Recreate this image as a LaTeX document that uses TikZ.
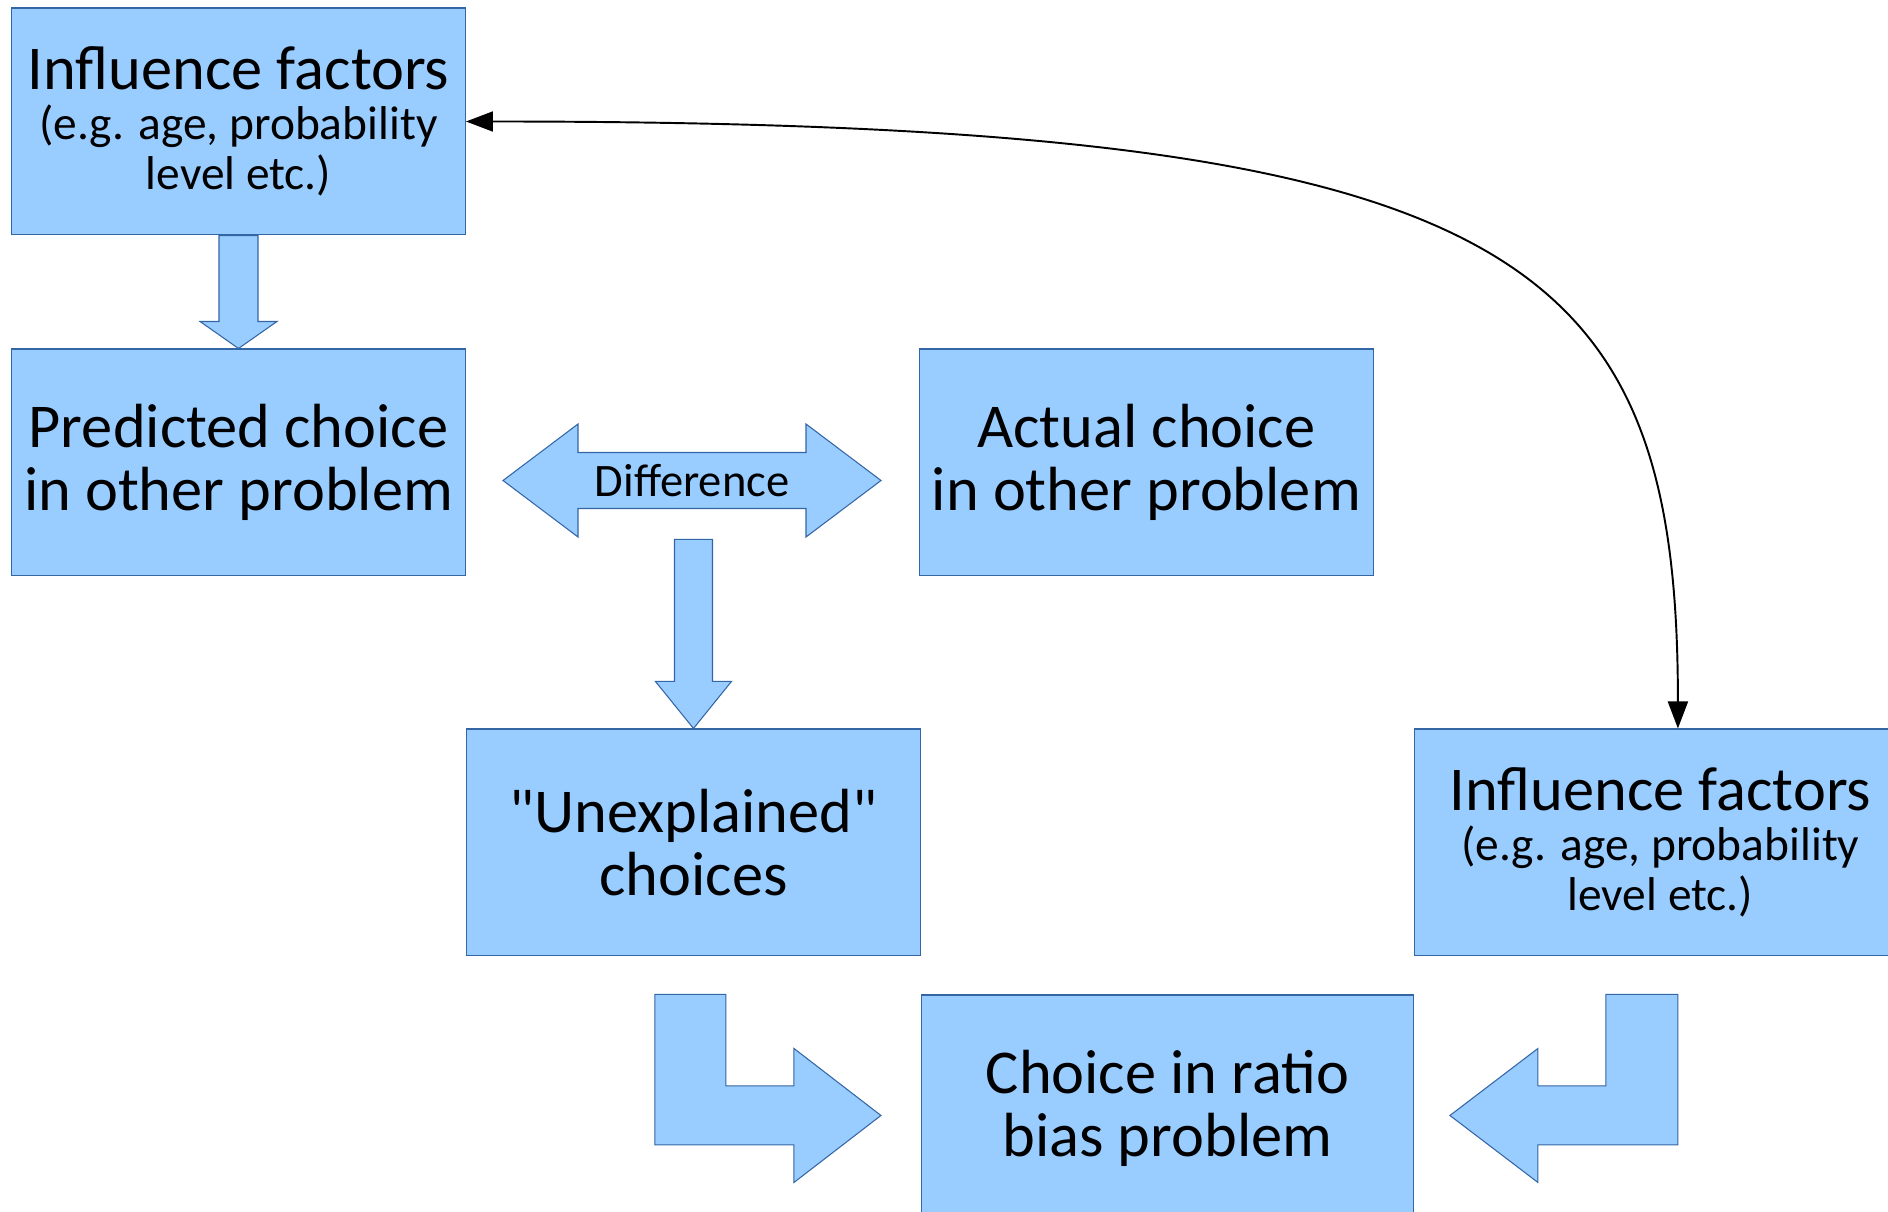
\documentclass[tikz,border=0pt]{standalone}
\usepackage{fontspec}
\setmainfont{Carlito}
\usetikzlibrary{positioning,calc,arrows.meta}
\definecolor{boxfill}{HTML}{99CCFF}
\definecolor{boxline}{HTML}{3465A4}
\newcommand{\smalltext}{\fontsize{27}{28.5}\selectfont}

\begin{document}
\begin{tikzpicture}[x=0.02cm,y=-0.02cm,
	box/.style={draw=boxline,fill=boxfill,line width=0.6pt,minimum width=9.08cm,minimum height=4.54cm,inner sep=0pt,align=center,font=\fontsize{35.5}{36}\selectfont},
	widebox/.style={box,minimum width=9.84cm},
	factorbox/.style={font=\fontsize{35.5}{28.5}\selectfont},
	blockarrow/.style={draw=boxline,fill=boxfill,line width=0.6pt,line join=miter},
	link/.style={{Triangle[length=0.54cm,width=0.4cm]}-{Triangle[length=0.54cm,width=0.4cm]},line width=1.1pt}]
			\useasboundingbox (0,0) rectangle (1888,1212);

			\node[box,factorbox] (inf1) at (238.5,121.5) {Influence factors\\ \smalltext (e.g. age, probability\\ \smalltext level etc.)};
			\node[box] (pred) [below=2.26cm of inf1] {Predicted choice\\in other problem};
			\node[box] (act) [right=9.06cm of pred] {Actual choice\\in other problem};
			\node[box] (unexp) [below right=3.04cm and 0cm of pred] {\textquotedbl Unexplained\textquotedbl\\choices};
			\node[widebox] (choice) [below right=0.76cm and 0cm of unexp] {Choice in ratio\\bias problem};
			\node[widebox,factorbox] (inf2) [above right=0.76cm and 0cm of choice] {Influence factors\\ \smalltext (e.g. age, probability\\ \smalltext level etc.)};

			% block arrows
			\draw[blockarrow] (pred.north) -- ++(-38.5,-27) -- ++(19,0) -- ++(0,-86) -- ++(39,0) -- ++(0,86) -- ++(19,0) -- cycle;
			\coordinate (diffc) at (692,480.5);
			\draw[blockarrow] (diffc) ++(-189,0) -- ++(75,-56.5) -- ++(0,28.5) -- ++(228,0) -- ++(0,-28.5) -- ++(75,56.5)
				-- ++(-75,56.5) -- ++(0,-28.5) -- ++(-228,0) -- ++(0,28.5) -- cycle;
			\node[font=\fontsize{26.5}{27}\selectfont] (diff) at (diffc) {Difference};
			\draw[blockarrow] (unexp.north) -- ++(-38,-47) -- ++(19,0) -- ++(0,-142) -- ++(38,0) -- ++(0,142) -- ++(19,0) -- cycle;
			\draw[blockarrow] (choice.north west) ++(-266,0) -- ++(71,0) -- ++(0,91.5) -- ++(68,0) -- ++(0,-37.5) -- ++(87,67)
				-- ++(-87,67) -- ++(0,-37.5) -- ++(-139,0) -- cycle;
			\draw[blockarrow] (choice.north east) ++(264,0) -- ++(-72,0) -- ++(0,91.5) -- ++(-68,0) -- ++(0,-37.5) -- ++(-88,67)
				-- ++(88,67) -- ++(0,-37.5) -- ++(140,0) -- cycle;

			% feedback link
			\coordinate (hit) at ($(inf2.north west)+(264,0)$);
			\draw[link] (inf1.east) .. controls +(1050,0) and +(0,-480) .. (hit);
		\end{tikzpicture}
\end{document}
